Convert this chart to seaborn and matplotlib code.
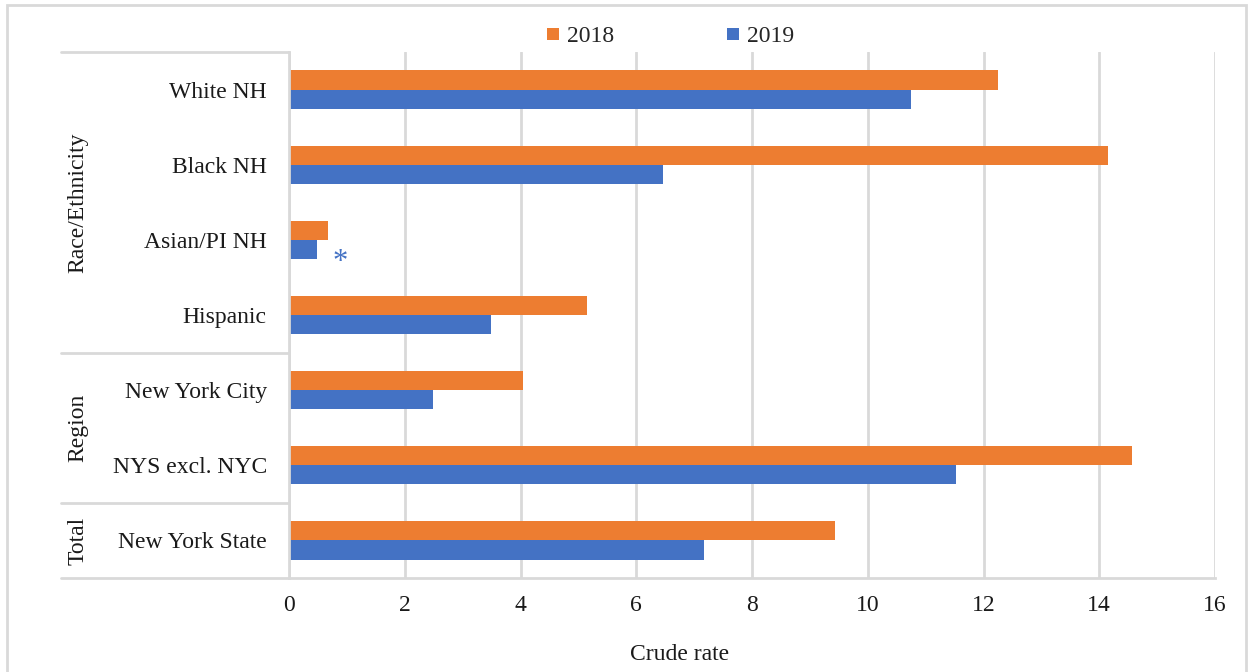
import matplotlib
matplotlib.use("Agg")
import matplotlib.pyplot as plt
import seaborn as sns
import pandas as pd
from matplotlib.patches import Rectangle
from matplotlib.lines import Line2D
import matplotlib.transforms as mtransforms

categories = ["White NH", "Black NH", "Asian/PI NH", "Hispanic",
              "New York City", "NYS excl. NYC", "New York State"]
rate_2018 = [12.25, 14.15, 0.67, 5.15, 4.05, 14.56, 9.43]
rate_2019 = [10.74, 6.46, 0.49, 3.49, 2.49, 11.52, 7.17]
years = ["2018", "2019"]
groups = ["Race/Ethnicity", "Region", "Total"]
group_centers = [1.5, 4.5, 6.0]
x_ticks = [0, 2, 4, 6, 8, 10, 12, 14, 16]

df = pd.DataFrame({
    "category": categories * 2,
    "rate": rate_2018 + rate_2019,
    "year": [years[0]] * len(categories) + [years[1]] * len(categories),
})

sns.set_theme(style="white")
plt.rcParams["font.family"] = ["Liberation Serif", "DejaVu Serif"]

W, H = 1249, 672
fig = plt.figure(figsize=(W / 100, H / 100), dpi=100)
ax = fig.add_axes([289 / W, 1 - 578 / H, (1215 - 289) / W, (578 - 52) / H])

orange = "#ED7D31"
blue = "#4472C4"
grid_c = "#D9D9D9"

sns.barplot(data=df, y="category", x="rate", hue="year", orient="h",
            palette=[orange, blue], width=0.51, ax=ax, linewidth=0,
            saturation=1, legend=False)

ax.set_xlim(0, 16)
ax.set_ylim(6.5, -0.5)
ax.set_xticks(x_ticks)
ax.set_xticklabels([str(t) for t in x_ticks])
ax.set_xlabel("")
ax.set_ylabel("")
ax.xaxis.grid(True, color=grid_c, linewidth=2)
ax.set_axisbelow(True)
for s in ["top", "right"]:
    ax.spines[s].set_visible(False)
for s in ["left", "bottom"]:
    ax.spines[s].set_color(grid_c)
    ax.spines[s].set_linewidth(2)
ax.tick_params(axis="y", length=0, pad=16, labelsize=17, labelcolor="#1a1a1a")
ax.tick_params(axis="x", length=0, pad=12, labelsize=17, labelcolor="#1a1a1a")

# asterisk next to Asian/PI NH 2019
ax.text(0.88, 2.3, "*", color=blue, fontsize=22, ha="center", va="center")

# category group brackets
trans = mtransforms.blended_transform_factory(ax.transAxes, ax.transData)
x_left = (61 - 289) / (1215 - 289)
for yv in [-0.5, 3.5, 5.5, 6.5]:
    ax.add_line(Line2D([x_left, 0], [yv, yv], transform=trans, color=grid_c,
                       linewidth=2, clip_on=False))
x_grp = (78 - 289) / (1215 - 289)
for g, c in zip(groups, group_centers):
    ax.text(x_grp, c, g, transform=trans, rotation=90, ha="center",
            va="center", fontsize=17, color="#1a1a1a")

# axis title
fig.text(680 / W, 1 - 654 / H, "Crude rate", ha="center", va="center",
         fontsize=17, color="#1a1a1a")

# legend
handles = [Line2D([], [], marker="s", linestyle="none", markersize=9,
                  markerfacecolor=c, markeredgewidth=0) for c in [orange, blue]]
fig.legend(handles, years, loc="center", bbox_to_anchor=(670 / W, 1 - 36 / H),
           ncol=2, frameon=False, fontsize=17, handlelength=0.6,
           handletextpad=0.3, columnspacing=4.7)

# outer chart border
fig.patches.append(Rectangle((7 / W, -0.05), (1246 - 7) / W, 1.05 - 5 / H,
                             transform=fig.transFigure, fill=False,
                             edgecolor=grid_c, linewidth=2))

fig.savefig("out.png", dpi=100)
